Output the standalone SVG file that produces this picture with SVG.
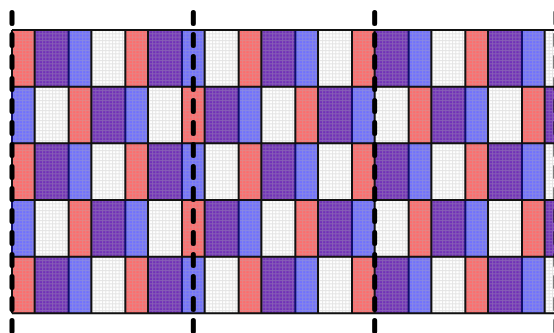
<svg xmlns="http://www.w3.org/2000/svg" xmlns:xlink="http://www.w3.org/1999/xlink" width="554" height="333" viewBox="0 0 554 333">
<style>
.r{fill:#ff6c6c}
.p{fill:#7030b8}
.b{fill:#7070ff}
.w{fill:#ffffff}
.k{stroke:#111;stroke-width:2}
.n{stroke:#10106a;stroke-width:2}
.dash{stroke:#000;stroke-width:5;stroke-linecap:round;stroke-dasharray:11 11;fill:none}
</style>
<defs>
<pattern id="fine" patternUnits="userSpaceOnUse" x="12" y="30" width="3.3333" height="3.3333">
<path d="M0 0.5H3.3333M0.5 0V3.3333" stroke="#b0b0b0" stroke-opacity="0.35" stroke-width="1" fill="none"/>
</pattern>
<g id="cellsA">
<rect x="0" y="0" width="22.667" height="56.667" class="r"/>
<rect x="22.667" y="0" width="34" height="56.667" class="p"/>
<rect x="56.667" y="0" width="22.667" height="56.667" class="b"/>
<rect x="79.333" y="0" width="34" height="56.667" class="w"/>
</g>
<g id="cellsB">
<rect x="0" y="0" width="22.667" height="56.667" class="b"/>
<rect x="22.667" y="0" width="34" height="56.667" class="w"/>
<rect x="56.667" y="0" width="22.667" height="56.667" class="r"/>
<rect x="79.333" y="0" width="34" height="56.667" class="p"/>
</g>
<g id="edgesA">
<line x1="0" y1="0" x2="0" y2="56.667" class="k"/>
<line x1="22.667" y1="0" x2="22.667" y2="56.667" class="k"/>
<line x1="56.667" y1="0" x2="56.667" y2="56.667" class="n"/>
<line x1="79.333" y1="0" x2="79.333" y2="56.667" class="k"/>
</g>
<g id="edgesB">
<line x1="0" y1="0" x2="0" y2="56.667" class="n"/>
<line x1="22.667" y1="0" x2="22.667" y2="56.667" class="k"/>
<line x1="56.667" y1="0" x2="56.667" y2="56.667" class="k"/>
<line x1="79.333" y1="0" x2="79.333" y2="56.667" class="k"/>
</g>
<g id="rowA">
<use xlink:href="#cellsA" x="0"/><use xlink:href="#cellsA" x="113.333"/><use xlink:href="#cellsA" x="226.667"/><use xlink:href="#cellsA" x="340"/><use xlink:href="#cellsA" x="453.333"/>
</g>
<g id="rowB">
<use xlink:href="#cellsB" x="0"/><use xlink:href="#cellsB" x="113.333"/><use xlink:href="#cellsB" x="226.667"/><use xlink:href="#cellsB" x="340"/><use xlink:href="#cellsB" x="453.333"/>
</g>
<g id="lineA">
<use xlink:href="#edgesA" x="0"/><use xlink:href="#edgesA" x="113.333"/><use xlink:href="#edgesA" x="226.667"/><use xlink:href="#edgesA" x="340"/><use xlink:href="#edgesA" x="453.333"/>
</g>
<g id="lineB">
<use xlink:href="#edgesB" x="0"/><use xlink:href="#edgesB" x="113.333"/><use xlink:href="#edgesB" x="226.667"/><use xlink:href="#edgesB" x="340"/><use xlink:href="#edgesB" x="453.333"/>
</g>
</defs>
<rect width="554" height="333" fill="#ffffff"/>
<g id="cells" transform="translate(12,30)">
<use xlink:href="#rowA" y="0"/>
<use xlink:href="#rowB" y="56.667"/>
<use xlink:href="#rowA" y="113.333"/>
<use xlink:href="#rowB" y="170"/>
<use xlink:href="#rowA" y="226.667"/>
</g>
<rect id="finegrid" x="12" y="30" width="542" height="283.333" fill="url(#fine)"/>
<g id="borders" transform="translate(12,30)">
<use xlink:href="#lineA" y="0"/>
<use xlink:href="#lineB" y="56.667"/>
<use xlink:href="#lineA" y="113.333"/>
<use xlink:href="#lineB" y="170"/>
<use xlink:href="#lineA" y="226.667"/>
<line x1="0" y1="0" x2="542" y2="0" class="k"/>
<line x1="0" y1="56.667" x2="542" y2="56.667" class="k"/>
<line x1="0" y1="113.333" x2="542" y2="113.333" class="k"/>
<line x1="0" y1="170" x2="542" y2="170" class="k"/>
<line x1="0" y1="226.667" x2="542" y2="226.667" class="k"/>
<line x1="0" y1="283.333" x2="542" y2="283.333" class="k"/>
</g>
<g id="dashes">
<line x1="12" y1="12.5" x2="12" y2="335" class="dash"/>
<line x1="193.333" y1="12.5" x2="193.333" y2="335" class="dash"/>
<line x1="374.667" y1="12.5" x2="374.667" y2="335" class="dash"/>
<line x1="556" y1="12.5" x2="556" y2="335" class="dash"/>
</g>
</svg>
